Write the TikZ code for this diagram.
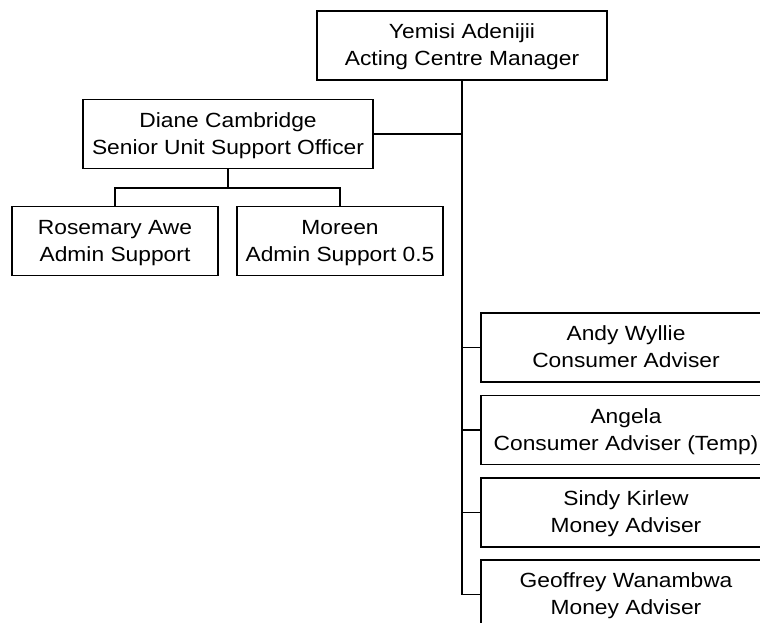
\documentclass[tikz,border=0pt]{standalone}
\usepackage{fontspec}
\setmainfont{Liberation Sans}[FakeStretch=1.11]
\newcommand{\mytopstrut}{\rule{0pt}{13.5pt}}
\newcommand{\mybotstrut}{\rule[-3.5pt]{0pt}{0pt}}
\begin{document}
\begin{tikzpicture}[x=0.75pt,y=-0.75pt,
  box/.style={draw=black,line width=1.1pt,inner sep=0pt,align=center,
    font=\fontsize{15.4pt}{20.25pt}\selectfont,minimum height=51.5pt},
  wide/.style={box,minimum width=217.5pt},
  narrow/.style={box,minimum width=154.5pt},
  link/.style={draw=black,line width=0.9pt}]
\useasboundingbox (0,0) rectangle (760,623);
\node[wide] (top) at (462,45.5) {\mytopstrut Yemisi Adenijii\\Acting Centre Manager\mybotstrut};
\node[wide] (diane) at (228,134) {\mytopstrut Diane Cambridge\\Senior Unit Support Officer\mybotstrut};
\node[narrow] (rose) at (115,241) {\mytopstrut Rosemary Awe\\Admin Support\mybotstrut};
\node[narrow] (moreen) at (340,241) {\mytopstrut Moreen\\Admin Support 0.5\mybotstrut};
\node[wide] (andy) at (626,347.5) {\mytopstrut Andy Wyllie\\Consumer Adviser\mybotstrut};
\node[wide] (angela) at (626,430) {\mytopstrut Angela\\Consumer Adviser (Temp)\mybotstrut};
\node[wide] (sindy) at (626,512.5) {\mytopstrut Sindy Kirlew\\Money Adviser\mybotstrut};
\node[wide] (geoff) at (626,594.5) {\mytopstrut Geoffrey Wanambwa\\Money Adviser\mybotstrut};
\coordinate (split) at (228,188);
\path[link] (top.south) -- (top.south |- geoff.west) -- (geoff.west);
\path[link] (diane.east) -- (diane.east -| top.south);
\path[link] (top.south |- andy.west) -- (andy.west);
\path[link] (top.south |- angela.west) -- (angela.west);
\path[link] (top.south |- sindy.west) -- (sindy.west);
\path[link] (diane.south) -- (split);
\path[link] (rose.north) -- (rose.north |- split) -- (moreen.north |- split) -- (moreen.north);
\end{tikzpicture}
\end{document}
